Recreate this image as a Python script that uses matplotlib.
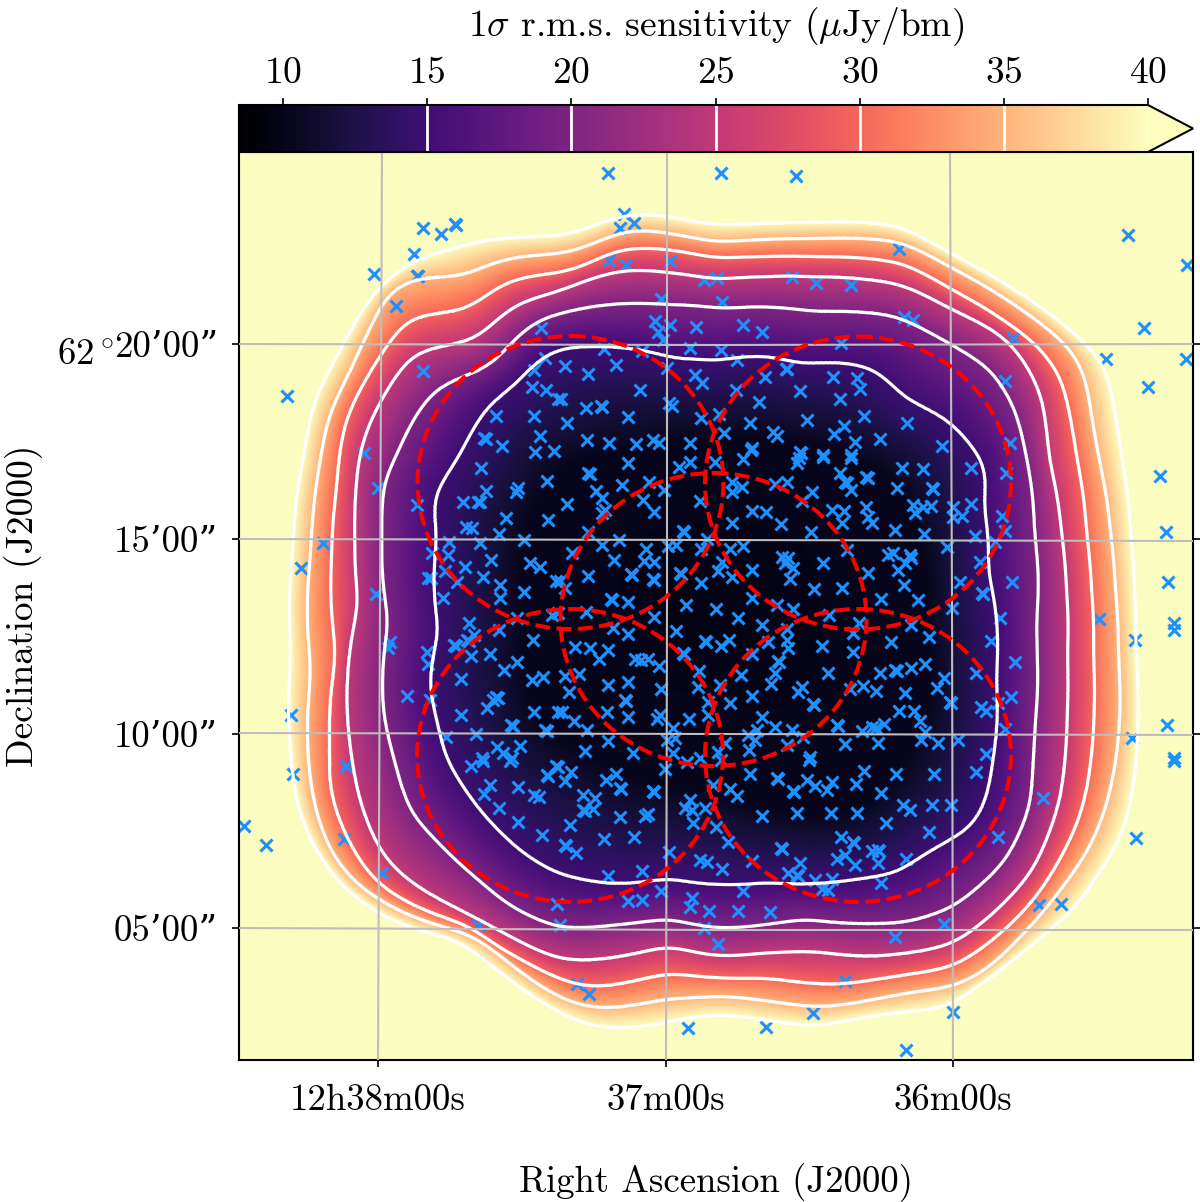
import numpy as np
import matplotlib
matplotlib.use('Agg')
from matplotlib import pyplot as plt
from matplotlib.patches import Ellipse
from matplotlib.cm import ScalarMappable
from matplotlib.colors import Normalize

plt.rcParams['font.family'] = ['cmr10', 'DejaVu Serif']
plt.rcParams['mathtext.fontset'] = 'cm'
plt.rcParams['axes.unicode_minus'] = False
plt.rcParams['axes.formatter.use_mathtext'] = True

# everything below is in map pixels (origin at the top left of the frame's page)
map_center = (714, 605)

inner_10 = [(714,440),(800,445),(880,470),(920,530),(925,620),(930,700),(900,770),(860,810),(714,790),(600,760),(540,720),(525,620),(530,520),(560,470),(640,450)]

contour_15 = [(459,457),(486,409),(516,384),(539,360),(559,349),(582,347),(638,350),(675,359),(715,361),(762,356),(802,364),(848,363),(873,369),(906,399),(950,422),(980,457),(986,475),(983,502),(988,572),(996,678),(993,760),(986,800),(973,825),(930,850),(893,874),(873,876),(832,882),(768,882),(668,878),(613,884),(559,874),(526,855),(486,817),(446,757),(439,728),(430,685),(439,632),(437,538),(434,498)]

contour_20 = [(396,457),(416,415),(436,389),(459,379),(486,369),(502,354),(519,335),(539,320),(559,314),(598,306),(668,305),(722,309),(768,307),(815,312),(873,313),(893,315),(923,329),(950,344),(990,369),(1013,405),(1026,457),(1034,532),(1036,622),(1037,655),(1035,722),(1033,760),(1030,807),(1006,860),(953,907),(906,922),(873,923),(805,918),(768,924),(718,928),(668,918),(622,924),(559,928),(512,907),(479,880),(436,840),(412,814),(394,757),(384,715),(389,622),(382,538),(384,482)]

contour_25 = [(359,457),(367,429),(392,382),(412,355),(426,349),(452,346),(472,342),(492,325),(512,307),(532,299),(559,292),(588,280),(615,272),(638,270),(668,273),(715,280),(762,277),(815,277),(873,280),(900,284),(950,309),(1000,334),(1020,355),(1040,392),(1048,457),(1061,532),(1066,588),(1067,655),(1067,712),(1065,760),(1060,800),(1033,870),(1000,907),(953,944),(910,952),(873,956),(812,950),(768,952),(718,956),(668,945),(578,961),(559,959),(499,930),(469,914),(406,879),(382,854),(362,807),(352,757),(359,605),(355,538),(356,488)]

contour_30 = [(339,457),(346,419),(372,369),(392,339),(409,317),(426,314),(456,315),(479,302),(502,284),(526,277),(559,274),(582,267),(618,250),(648,248),(668,250),(715,259),(762,257),(815,257),(873,259),(900,262),(950,289),(1006,322),(1036,344),(1060,375),(1070,419),(1076,457),(1086,532),(1091,588),(1093,655),(1094,712),(1091,760),(1083,807),(1070,840),(1036,897),(1000,934),(953,967),(916,972),(873,979),(845,984),(768,977),(708,977),(668,972),(592,988),(559,979),(532,965),(499,947),(469,925),(416,907),(379,885),(362,864),(342,827),(329,784),(331,760),(337,655),(332,555),(337,488)]

contour_35 = [(321,457),(329,415),(349,375),(372,325),(386,295),(402,282),(426,277),(459,280),(479,269),(506,259),(559,255),(582,249),(622,232),(648,230),(668,234),(715,243),(762,240),(815,239),(873,239),(900,241),(916,249),(953,269),(1013,304),(1066,344),(1083,369),(1091,419),(1098,457),(1110,532),(1115,588),(1118,655),(1120,712),(1116,760),(1106,807),(1090,847),(1060,890),(1023,934),(986,970),(953,987),(916,990),(873,999),(822,1007),(768,1000),(725,995),(668,998),(605,1009),(578,1005),(559,997),(532,980),(499,954),(472,934),(412,917),(379,900),(356,884),(332,854),(317,814),(310,774),(312,672),(311,555),(314,505)]

contour_40 = [(304,457),(311,415),(317,394),(336,359),(352,329),(372,295),(396,272),(426,256),(452,250),(482,241),(522,238),(559,237),(575,234),(598,224),(622,216),(645,214),(668,217),(695,223),(722,226),(762,224),(808,223),(873,223),(890,224),(906,229),(950,254),(1013,289),(1086,344),(1103,362),(1110,385),(1115,419),(1121,457),(1130,532),(1134,588),(1135,648),(1138,712),(1136,760),(1130,807),(1120,840),(1100,870),(1076,907),(1040,937),(990,977),(963,997),(943,1009),(906,1010),(873,1015),(848,1020),(815,1026),(772,1020),(725,1013),(688,1017),(665,1023),(612,1029),(585,1024),(559,1012),(516,984),(479,954),(452,937),(412,929),(376,912),(346,890),(322,860),(302,820),(294,784),(292,757),(292,655),(293,555),(296,505)]

contour_levels = [15, 20, 25, 30, 35, 40]
cbar_ticks = [10, 15, 20, 25, 30, 35, 40]

sources_upper = [(287,396),(374,274),(396,306),(414,254),(423,228),(441,234),(455,224),(456,225),(417,276),(418,276),(423,371),(541,328),(545,358),(534,370),(532,387),(546,390),(558,399),(496,416),(534,416),(484,438),(486,439),(502,446),(540,436),(535,452),(554,451),(364,453),
(608,173),(721,173),(796,176),(624,214),(620,228),(634,223),(609,260),(626,265),(670,261),(661,299),(704,280),(717,278),(722,302),(792,277),(816,283),(851,285),(655,321),(658,332),(670,325),(663,340),(696,327),(743,325),(762,332),(604,349),(642,351),(690,348),(721,350),(737,360),(841,343),(565,366),(588,374),(616,365),(667,368),(695,375),(702,383),(786,369),(787,369),(765,377),(833,377),(857,378),(860,389),(800,391),(840,399),(736,390),(759,402),(640,390),(561,399),(586,408),(601,406),(602,407),(669,403),(672,406),(628,417),(567,423),(701,418),(719,414),(750,423),(807,420),(864,416),(844,426),(834,434),(773,432),(777,436),(724,433),(587,440),(609,443),(636,444),(653,440),(659,443),(690,443),(752,448),(751,450),(800,452),(801,453),(855,442),(823,455),(851,455),
(899,249),(1128,235),(1187,265),(1144,328),(904,317),(913,320),(1013,338),(1106,359),(1186,359),(1148,387),(1005,381),(907,423),(880,439),(942,446),(1010,443)]

sources_left = [(481,468),(547,481),(486,491),(518,488),(516,492),(463,502),(478,502),(480,502),(417,505),(378,488),(506,518),(548,520),(466,527),(472,528),(499,534),(524,540),(449,542),(480,543),(323,543),(301,568),(432,553),(448,555),(491,560),(530,563),(540,567),(465,567),(445,571),(483,577),(428,578),(431,578),(457,582),(500,585),(556,581),(376,594),(524,592),(443,598),(500,598),(469,623),(552,615),(517,618),(499,630),(533,640),(474,635),(467,640),(469,641),(454,645),(456,646),(390,642),(388,648),(427,652),(471,656),(490,654),(428,664),(517,662),(504,670),(461,679),(532,680),(543,677),(407,696),(496,697),(498,698),(493,700),(487,708),(430,700),(461,715),(534,712),(291,715),(511,725),(513,726),(545,730),(547,731),(558,712),(476,734),(446,737),(497,747),(520,746),(503,753),(482,758),(512,758)]

sources_center = [(628,463),(588,473),(590,474),(679,467),(690,462),(715,462),(743,459),(799,458),(797,463),(823,457),(851,458),(840,473),(866,477),(868,478),(845,482),(847,483),(851,490),(596,491),(622,485),(649,482),(602,498),(664,490),(643,500),(654,512),(567,504),(605,510),(602,513),(700,501),(732,482),(742,487),(732,492),(775,484),(787,482),(812,492),(802,501),(752,511),(766,512),(781,524),(732,523),(832,510),(844,511),(842,523),(866,507),(868,517),(872,523),(811,532),(683,531),(684,532),(588,532),(619,540),(602,545),(572,553),(614,560),(646,549),(644,561),(654,562),(668,546),(676,545),(701,549),(707,539),(730,549),(743,546),(722,562),(718,571),(732,577),(752,570),(782,557),(788,558),(785,563),(793,568),(790,579),(823,563),(847,550),(588,576),(631,574),(632,575),(653,579),(654,580),(680,573),(681,574),(701,583),(868,573),(560,581),(565,588),(814,589),(842,588),(611,599),(612,600),(628,602),(686,605),(752,598),(777,605),(793,609),(716,609),(654,617),(586,612),(558,613),(738,618),(829,615),(859,623),(613,628),(628,634),(676,631),(762,625),(787,629),(853,633),(705,641),(706,642),(729,640),(721,646),(768,642),(787,640),(788,648),(822,646),(575,647),(590,648),(608,650),(599,659),(635,659),(641,660),(648,659),(659,666),(683,653),(684,654),(752,654),(778,661),(779,662),(853,652),(565,676),(579,674),(699,671),(741,675),(775,673),(828,673),(608,685),(628,682),(569,692),(661,689),(698,687),(720,685),(771,684),(802,687),(798,692),(850,689),(863,686),(752,696),(625,700),(626,701),(708,702),(730,703),(813,704),(814,705),(607,712),(562,712),(628,717),(660,715),(657,719),(689,719),(708,715),(574,721),(762,717),(837,725),(838,726),(587,730),(673,728),(775,727),(757,730),(792,730),(862,731),(872,727),(748,735),(755,740),(803,737),(608,741),(667,740),(675,738),(725,743),(787,745),(845,744),(585,751),(633,753),(673,753),(718,752),(749,750),(810,757),(700,758)]

sources_right = [(1160,476),(902,468),(923,469),(971,468),(1006,473),(897,488),(932,488),(933,489),(1166,532),(913,505),(915,513),(923,507),(931,506),(953,507),(953,517),(962,516),(971,504),(1002,516),(895,530),(924,534),(975,536),(1005,531),(947,547),(995,542),(888,555),(893,553),(910,555),(911,558),(905,563),(898,570),(980,562),(1168,582),(1012,582),(960,582),(904,585),(982,593),(983,594),(881,599),(918,600),(952,608),(1000,618),(1099,619),(1174,623),(1174,630),(911,625),(929,637),(891,642),(991,641),(1135,640),(1015,662),(925,664),(911,668),(895,670),(897,671),(880,673),(976,673),(944,678),(937,688),(905,693),(876,691),(1011,697),(950,702),(951,703),(998,703),(981,707),(986,711),(914,711),(899,711),(920,721),(884,724),(876,728),(1167,725),(1005,729),(925,732),(921,740),(938,743),(958,740),(878,743),(1132,738),(986,754),(1174,758)]

sources_lower = [(244,826),(266,845),(293,774),(346,766),(344,839),(382,873),(478,925),(471,766),(483,761),(510,761),(490,785),(484,794),(518,787),(534,795),(539,797),(499,808),(518,822),(542,835),(547,775),(548,776),(556,766),(557,904),
(558,767),(571,772),(565,781),(606,780),(616,774),(620,788),(621,789),(653,791),(654,792),(665,769),(687,762),(721,760),(750,774),(777,778),(778,779),(809,760),(864,771),(807,780),(832,782),(856,784),(815,786),(827,790),(793,791),(794,792),(730,789),(737,796),(713,785),(583,795),(595,798),(583,810),(585,811),(593,809),(620,817),(648,814),(645,816),(690,800),(685,808),(692,810),(705,808),(762,816),(797,813),(831,813),(857,813),(570,825),(693,823),(716,827),(604,839),(634,837),(565,845),(566,846),(576,853),(669,852),(728,842),(781,848),(782,849),(841,837),(853,842),(854,843),(872,851),(700,860),(707,862),(752,861),(845,855),(837,859),(855,865),(800,863),(722,869),(788,873),(797,875),(798,876),(642,871),(608,876),(815,880),(832,879),(822,889),(828,890),(661,891),(743,891),(692,898),(628,901),(642,900),(690,907),(709,911),(738,911),(770,912),(560,925),(704,928),(718,944),(577,984),(589,994),(845,981),(813,1013),(688,1028),(766,1027),
(1174,761),(896,774),(934,774),(976,772),(881,793),(903,805),(910,810),(932,805),(951,805),(1043,798),(886,823),(929,832),(998,837),(1136,838),(878,850),(879,851),(878,863),(906,859),(881,883),(1039,905),(1061,904),(944,924),(895,937),(953,1012),(906,1050)]

circle_x = [570.5, 858, 713.5, 570, 858]
circle_y = [482.5, 483, 619.5, 755.5, 755.5]
circle_w = 306
circle_h = 293

grid_vertical = [[(382,152),(380,600),(378,1060)], [(667,152),(667,600),(666,1060)], [(950,152),(952,600),(953,1060)]]
grid_horizontal = [[(239,344),(714,345),(1193,344)], [(239,539),(714,540),(1193,541)], [(239,733),(714,734),(1193,735)], [(239,928),(714,930),(1193,930)]]

xtick_pos = [378, 666, 953]
xtick_lab = ['12h38m00s', '37m00s', '36m00s']
ytick_pos = [344, 539, 734, 928]
ytick_lab = ['20’00”', '15’00”', '10’00”', '05’00”']
dec_degrees = r'$62\,^{\circ}\;$'


def radius_of_angle(points, angles):
    # contour read as a closed line -> radius from the map centre against angle
    p = np.array(points, dtype=float)
    dx = p[:, 0] - map_center[0]
    dy = p[:, 1] - map_center[1]
    th = np.arctan2(dy, dx)
    order = np.argsort(th)
    r = np.interp(angles, th[order], np.hypot(dx, dy)[order], period=2*np.pi)
    kernel = np.ones(17)/17.
    for i in range(3):
        r = np.convolve(np.r_[r[-17:], r, r[:17]], kernel, mode='same')[17:-17]
    return r


vmin, vmax = 8.47, 40
angles = np.linspace(-np.pi, np.pi, 1440, endpoint=False)
outlines = [inner_10, contour_15, contour_20, contour_25, contour_30, contour_35, contour_40]
values = [10.2, 15, 20, 25, 30, 35, 40]
core_value = 9.7
table = [radius_of_angle(o, angles) for o in outlines]

xx, yy = np.meshgrid(np.arange(239, 1194), np.arange(152, 1061))
rad = np.hypot(xx - map_center[0], yy - map_center[1])
idx = ((np.arctan2(yy - map_center[1], xx - map_center[0]) + np.pi)/(2*np.pi)*1440).astype(int) % 1440

field = np.full(rad.shape, core_value)
mask = rad < table[0][idx]
field[mask] = core_value + (values[0] - core_value)*rad[mask]/table[0][idx][mask]
for k in range(len(values) - 1):
    r0 = table[k][idx]
    r1 = table[k + 1][idx]
    mask = (rad >= r0) & (rad < r1)
    field[mask] = values[k] + (values[k + 1] - values[k])*(rad[mask] - r0[mask])/(r1[mask] - r0[mask])
mask = rad >= table[-1][idx]
field[mask] = 40 + (rad[mask] - table[-1][idx][mask])*0.1

W, H = 1200., 1202.
fig = plt.figure(figsize=(12, 12.02), dpi=100)
ax = fig.add_axes([239/W, 1 - 1060/H, (1193 - 239)/W, (1060 - 152)/H])

cmap = plt.get_cmap('magma').copy()
im = ax.imshow(field, cmap=cmap, vmin=vmin, vmax=vmax, extent=(238.5, 1193.5, 1060.5, 151.5),
               aspect='auto', interpolation='bilinear', zorder=1)

sources = np.array(sources_upper + sources_left + sources_center + sources_right + sources_lower)
ax.plot(sources[:, 0], sources[:, 1], 'x', color='#1e90ff', ms=9.2, mew=2.2, zorder=2)

ax.contour(xx, yy, field, levels=contour_levels, colors='white', linewidths=2.3, zorder=3)

for line in grid_vertical + grid_horizontal:
    g = np.array(line)
    ax.plot(g[:, 0], g[:, 1], color='#bdbdbd', lw=1.5, zorder=3.5)

for cx, cy in zip(circle_x, circle_y):
    ax.add_patch(Ellipse((cx, cy), circle_w, circle_h, fill=False, ec='red', ls='--', lw=2.9, zorder=4))

ax.set_xlim(239, 1193)
ax.set_ylim(1060, 152)
ax.set_xticks(xtick_pos)
ax.set_xticklabels(xtick_lab, fontsize=26.5)
ax.set_yticks(ytick_pos)
ax.set_yticklabels(ytick_lab, fontsize=26.5)
ax.tick_params(axis='both', length=5, width=1.2, pad=12, direction='out')
ax.tick_params(axis='y', pad=10, right=True)
ax.set_xlabel('Right Ascension (J2000)', fontsize=26.5, labelpad=33)
ax.set_ylabel('Declination (J2000)', fontsize=27)
ax.yaxis.set_label_coords(-0.205, 0.5)
for s in ax.spines.values():
    s.set_linewidth(1.5)

# the degree sign is not in cmr10, so it goes in front of the first tick label
ax.annotate(dec_degrees, xy=(0, 0), xycoords=ax.get_yticklabels()[0], ha='right', va='baseline', fontsize=26.5)

cax = fig.add_axes([239/W, 1 - 152/H, (1193 - 239)/W, 47/H])
sm = ScalarMappable(norm=Normalize(vmin, vmax), cmap=cmap)
cb = fig.colorbar(sm, cax=cax, orientation='horizontal', extend='max', extendfrac=45/909., ticks=cbar_ticks)
cb.ax.xaxis.set_ticks_position('top')
cb.ax.xaxis.set_label_position('top')
cb.ax.tick_params(labelsize=27, length=5, width=1.2, pad=6)
cb.set_label(r'$1\sigma$ r.m.s. sensitivity ($\mu$Jy/bm)', fontsize=27, labelpad=15)
cax.xaxis.label.set_x(0.525)
cb.outline.set_linewidth(1.5)
for lv in contour_levels:
    cax.axvline(lv, color='white', lw=2)

fig.savefig('out.png', dpi=100)
